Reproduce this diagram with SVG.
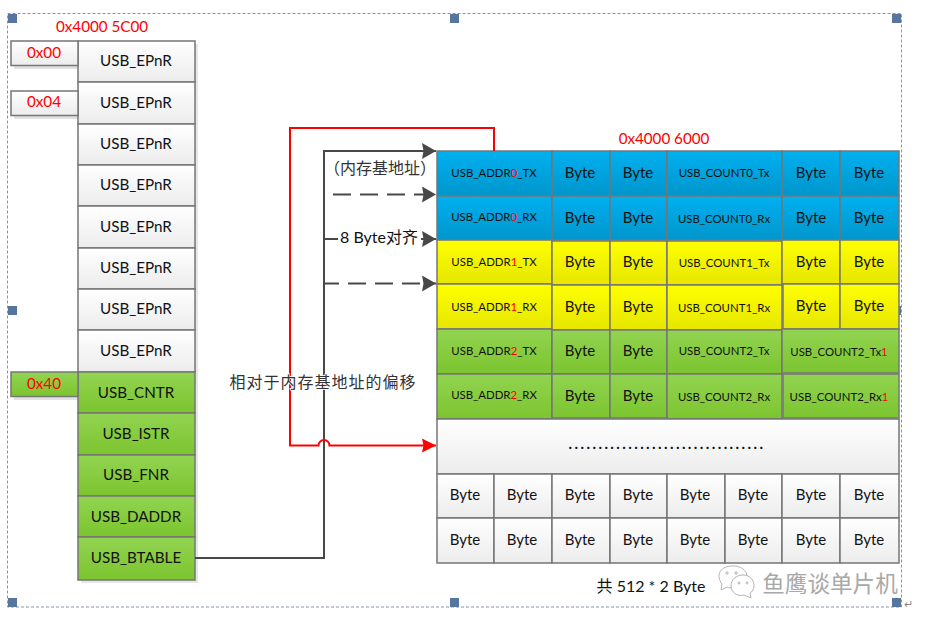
<svg xmlns="http://www.w3.org/2000/svg" width="928" height="624" viewBox="0 0 928 624">
<style>
text{font-family:Lato,"Noto Sans CJK SC",sans-serif;text-anchor:middle;fill:#111}
.c{stroke:#767676;stroke-width:1.5}
.g{fill:url(#gw)}.n{fill:url(#gg)}.b{fill:url(#gb)}.y{fill:url(#gy)}
.r{font-size:15.2px}.s{font-size:11.4px}.by{font-size:15px}
.red{fill:#f00}.cn{font-family:"Noto Sans CJK SC",sans-serif;font-size:16px;fill:#333}
.h{fill:#5676a0}
.w{stroke:#484848;stroke-width:2;fill:none}
</style>
<defs>
<linearGradient id="gw" x1="0" y1="0" x2="0" y2="1"><stop offset="0" stop-color="#fff"/><stop offset="1" stop-color="#ececec"/></linearGradient>
<linearGradient id="gg" x1="0" y1="0" x2="0" y2="1"><stop offset="0" stop-color="#92d451"/><stop offset="1" stop-color="#7cc42f"/></linearGradient>
<linearGradient id="gb" x1="0" y1="0" x2="0" y2="1"><stop offset="0" stop-color="#00b0f0"/><stop offset="1" stop-color="#0096cc"/></linearGradient>
<linearGradient id="gy" x1="0" y1="0" x2="0" y2="1"><stop offset="0" stop-color="#ffff00"/><stop offset="1" stop-color="#e6e600"/></linearGradient>
<marker id="ad" markerUnits="userSpaceOnUse" markerWidth="15" markerHeight="16" refX="14" refY="8" orient="auto"><path d="M0 0L14 8L0 16L1.500 8Z" fill="#484848"/></marker>
<marker id="ar" markerUnits="userSpaceOnUse" markerWidth="15" markerHeight="16" refX="14" refY="7" orient="auto"><path d="M0 0L14 7L0 14L1.500 7Z" fill="#f00"/></marker>
</defs>
<rect width="928" height="624" fill="#fff"/>
<g id="frame">
<rect x="7.5" y="13.5" width="894" height="593.5" fill="none" stroke="#8793ad" stroke-dasharray="3 2"/>
<rect class="h" x="8" y="14" width="9" height="9"/><rect class="h" x="450" y="14" width="9" height="9"/><rect class="h" x="892" y="14" width="9" height="9"/>
<rect class="h" x="8" y="306" width="9" height="9"/><rect class="h" x="892" y="306" width="9" height="9"/>
<rect class="h" x="8" y="598" width="9" height="9"/><rect class="h" x="450" y="598" width="9" height="9"/><rect class="h" x="892" y="598" width="9" height="9"/>
</g>
<g id="left-shadow"><rect x="81" y="44" width="117" height="539" fill="#e6e6e6"/><rect x="14" y="44" width="64" height="25" fill="#e2e2e2"/><rect x="14" y="94" width="64" height="25" fill="#e2e2e2"/><rect x="14" y="375" width="64" height="25" fill="#e2e2e2"/></g>
<g id="registers">
<g id="r0"><rect class="g c" x="78" y="41" width="117" height="41"/><text class="r" x="136" y="66">USB_EPnR</text></g>
<g id="r1"><rect class="g c" x="78" y="82" width="117" height="42"/><text class="r" x="136" y="108">USB_EPnR</text></g>
<g id="r2"><rect class="g c" x="78" y="124" width="117" height="41"/><text class="r" x="136" y="149">USB_EPnR</text></g>
<g id="r3"><rect class="g c" x="78" y="165" width="117" height="41"/><text class="r" x="136" y="190">USB_EPnR</text></g>
<g id="r4"><rect class="g c" x="78" y="206" width="117" height="42"/><text class="r" x="136" y="232">USB_EPnR</text></g>
<g id="r5"><rect class="g c" x="78" y="248" width="117" height="41"/><text class="r" x="136" y="273">USB_EPnR</text></g>
<g id="r6"><rect class="g c" x="78" y="289" width="117" height="41"/><text class="r" x="136" y="314">USB_EPnR</text></g>
<g id="r7"><rect class="g c" x="78" y="330" width="117" height="42"/><text class="r" x="136" y="356">USB_EPnR</text></g>
<g id="r8"><rect class="n c" x="78" y="372" width="117" height="41"/><text class="r" x="136" y="398">USB_CNTR</text></g>
<g id="r9"><rect class="n c" x="78" y="413" width="117" height="42"/><text class="r" x="136" y="439">USB_ISTR</text></g>
<g id="r10"><rect class="n c" x="78" y="455" width="117" height="41"/><text class="r" x="136" y="480">USB_FNR</text></g>
<g id="r11"><rect class="n c" x="78" y="496" width="117" height="41"/><text class="r" x="136" y="522">USB_DADDR</text></g>
<g id="r12"><rect class="n c" x="78" y="537" width="117" height="43"/><text class="r" x="136" y="563">USB_BTABLE</text></g>
</g>
<g id="offsets">
<g id="o0"><rect class="g c" x="11" y="41" width="67" height="24.500"/><text class="r red" x="44" y="58">0x00</text></g>
<g id="o4"><rect class="g c" x="11" y="91" width="67" height="24.500"/><text class="r red" x="44" y="107">0x04</text></g>
<g id="o40"><rect class="n c" x="11" y="372" width="67" height="24.500"/><text class="r red" x="44" y="389">0x40</text></g>
<text class="r red" x="102" y="32">0x4000 5C00</text>
<text class="r red" x="664" y="144">0x4000 6000</text>
</g>
<g id="table">
<g id="row0"><rect class="b c" x="437" y="151" width="115" height="45"/><text class="s" x="494" y="177">USB_ADDR<tspan class="red">0</tspan>_TX</text><rect class="b c" x="552" y="151" width="58" height="45"/><text class="by" x="580" y="178">Byte</text><rect class="b c" x="610" y="151" width="57" height="45"/><text class="by" x="638" y="178">Byte</text><rect class="b c" x="667" y="151" width="115" height="45"/><text class="s" x="724" y="177">USB_COUNT0_Tx</text><rect class="b c" x="782" y="151" width="58" height="45"/><text class="by" x="811" y="178">Byte</text><rect class="b c" x="840" y="151" width="59" height="45"/><text class="by" x="869" y="178">Byte</text></g>
<g id="row1"><rect class="b c" x="437" y="196" width="115" height="44"/><text class="s" x="494" y="221">USB_ADDR<tspan class="red">0</tspan>_RX</text><rect class="b c" x="552" y="196" width="58" height="44"/><text class="by" x="580" y="223">Byte</text><rect class="b c" x="610" y="196" width="57" height="44"/><text class="by" x="638" y="223">Byte</text><rect class="b c" x="667" y="196" width="115" height="44"/><text class="s" x="724" y="223">USB_COUNT0_Rx</text><rect class="b c" x="782" y="196" width="58" height="44"/><text class="by" x="811" y="223">Byte</text><rect class="b c" x="840" y="196" width="59" height="44"/><text class="by" x="869" y="223">Byte</text></g>
<g id="row2"><rect class="y c" x="437" y="240" width="115" height="44"/><text class="s" x="494" y="266">USB_ADDR<tspan class="red">1</tspan>_TX</text><rect class="y c" x="552" y="241" width="58" height="44"/><text class="by" x="580" y="267">Byte</text><rect class="y c" x="610" y="241" width="57" height="44"/><text class="by" x="638" y="267">Byte</text><rect class="y c" x="667" y="241" width="115" height="44"/><text class="s" x="724" y="267">USB_COUNT1_Tx</text><rect class="y c" x="782" y="240" width="58" height="44"/><text class="by" x="811" y="267">Byte</text><rect class="y c" x="840" y="240" width="59" height="44"/><text class="by" x="869" y="267">Byte</text></g>
<g id="row3"><rect class="y c" x="437" y="284" width="115" height="45"/><text class="s" x="494" y="311">USB_ADDR<tspan class="red">1</tspan>_RX</text><rect class="y c" x="552" y="285" width="58" height="45"/><text class="by" x="580" y="312">Byte</text><rect class="y c" x="610" y="285" width="57" height="45"/><text class="by" x="638" y="312">Byte</text><rect class="y c" x="667" y="285" width="115" height="45"/><text class="s" x="724" y="312">USB_COUNT1_Rx</text><rect class="y c" x="783" y="284" width="57" height="45"/><text class="by" x="811" y="311">Byte</text><rect class="y c" x="840" y="284" width="59" height="45"/><text class="by" x="869" y="311">Byte</text></g>
<g id="row4"><rect class="n c" x="437" y="329" width="115" height="45"/><text class="s" x="494" y="355">USB_ADDR<tspan class="red">2</tspan>_TX</text><rect class="n c" x="552" y="330" width="58" height="44"/><text class="by" x="580" y="356">Byte</text><rect class="n c" x="610" y="330" width="57" height="44"/><text class="by" x="638" y="356">Byte</text><rect class="n c" x="667" y="330" width="115" height="44"/><text class="s" x="724" y="355">USB_COUNT2_Tx</text><rect class="n c" x="782" y="329" width="117" height="44"/><text class="s" x="839" y="356">USB_COUNT2_Tx<tspan class="red">1</tspan></text></g>
<g id="row5"><rect class="n c" x="437" y="374" width="115" height="45"/><text class="s" x="494" y="399">USB_ADDR<tspan class="red">2</tspan>_RX</text><rect class="n c" x="552" y="374" width="58" height="44"/><text class="by" x="580" y="401">Byte</text><rect class="n c" x="610" y="374" width="57" height="44"/><text class="by" x="638" y="401">Byte</text><rect class="n c" x="667" y="374" width="115" height="45"/><text class="s" x="724" y="401">USB_COUNT2_Rx</text><rect class="n c" x="783" y="374" width="116" height="44"/><text class="s" x="839" y="401">USB_COUNT2_Rx<tspan class="red">1</tspan></text></g>
<g id="gap"><rect class="g c" x="437" y="419" width="462" height="55"/><text x="667" y="449" font-size="15" font-weight="700" letter-spacing="2.4">.................................</text></g>
<g id="row6"><rect class="g c" x="437" y="474" width="57" height="44"/><text class="by" x="465" y="500">Byte</text><rect class="g c" x="494" y="474" width="58" height="44"/><text class="by" x="522" y="500">Byte</text><rect class="g c" x="552" y="474" width="58" height="44"/><text class="by" x="580" y="500">Byte</text><rect class="g c" x="610" y="474" width="57" height="44"/><text class="by" x="638" y="500">Byte</text><rect class="g c" x="667" y="474" width="58" height="44"/><text class="by" x="695" y="500">Byte</text><rect class="g c" x="725" y="474" width="57" height="44"/><text class="by" x="753" y="500">Byte</text><rect class="g c" x="782" y="474" width="58" height="44"/><text class="by" x="811" y="500">Byte</text><rect class="g c" x="840" y="474" width="59" height="44"/><text class="by" x="869" y="500">Byte</text></g>
<g id="row7"><rect class="g c" x="437" y="518" width="57" height="45"/><text class="by" x="465" y="545">Byte</text><rect class="g c" x="494" y="518" width="58" height="45"/><text class="by" x="522" y="545">Byte</text><rect class="g c" x="552" y="518" width="58" height="45"/><text class="by" x="580" y="545">Byte</text><rect class="g c" x="610" y="518" width="57" height="45"/><text class="by" x="638" y="545">Byte</text><rect class="g c" x="667" y="518" width="58" height="45"/><text class="by" x="695" y="545">Byte</text><rect class="g c" x="725" y="518" width="57" height="45"/><text class="by" x="753" y="545">Byte</text><rect class="g c" x="782" y="518" width="58" height="45"/><text class="by" x="811" y="545">Byte</text><rect class="g c" x="840" y="518" width="59" height="45"/><text class="by" x="869" y="545">Byte</text></g>
</g>
<g id="connectors">
<path class="w" d="M195 558H324V151H436" marker-end="url(#ad)"/>
<path class="w" d="M324 194.500H436" stroke-dasharray="18 9" stroke-dashoffset="18" marker-end="url(#ad)"/>
<path class="w" d="M324 239H436" marker-end="url(#ad)"/>
<path class="w" d="M324 283.500H436" stroke-dasharray="18 9" stroke-dashoffset="3" marker-end="url(#ad)"/>
<path d="M494 151V128H290V445.500H318.500A5.500 5.500 0 0 1 329.500 445.500H436" fill="none" stroke="#f00" stroke-width="2" marker-end="url(#ar)"/>
</g>
<g id="labels">
<rect x="338" y="230" width="83" height="18" fill="#fff"/>
<text class="cn" x="380" y="174">（内存基地址）</text>
<text x="379" y="243" font-size="16" fill="#222">8 Byte<tspan font-family="Noto Sans CJK SC">对齐</tspan></text>
<text class="cn" x="323" y="388" letter-spacing="1" style="paint-order:stroke;stroke:#fff;stroke-width:1.5">相对于内存基地址的偏移</text>
<text x="651" y="592" font-size="16" fill="#222"><tspan font-family="Noto Sans CJK SC">共</tspan> 512 * 2 Byte</text>
</g>
<g id="watermark" fill="none" stroke="#b4b4b4" stroke-width="1">
<path d="M722 584C716 576 719 567 731 566C741 565 747 571 747 576M722 584L721 590L727 587C729 588 731 588 733 588"/>
<path d="M744 595C737 597 731 592 731 586C731 579 737 575 743 575C750 575 754 580 754 586C754 589 752 592 750 593L751 598Z" fill="#fff"/>
<circle cx="727" cy="573" r="1.200"/><circle cx="736" cy="573" r="1.200"/><circle cx="739" cy="583" r="1"/><circle cx="747" cy="583" r="1"/>
<text x="830" y="592" font-size="22.600" stroke="none" style="fill:#a8a8a8;font-family:'Noto Sans CJK SC',sans-serif">鱼鹰谈单片机</text>
<text x="908" y="608" font-size="11" stroke="none" style="fill:#888">↵</text>
</g>
</svg>
